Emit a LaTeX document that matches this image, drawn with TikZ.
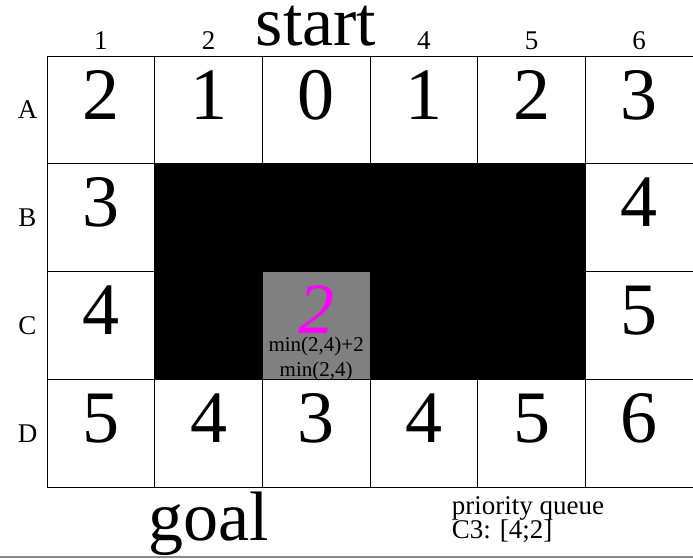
\documentclass[tikz,border=0pt]{standalone}
\usepackage{fontspec}
\setmainfont{Liberation Serif}
\usetikzlibrary{calc}
\definecolor{seengray}{RGB}{128,128,128}
\definecolor{hotmag}{RGB}{255,0,255}
\definecolor{rulegray}{RGB}{136,136,136}
\begin{document}
\begin{tikzpicture}[x=1pt,y=-1pt,
  cell/.style={draw=black, line width=0.9pt, minimum width=107.67pt, minimum height=107.75pt, inner sep=0pt, outer sep=0pt, anchor=north west},
  wall/.style={cell, fill=black},
  seen/.style={cell, fill=seengray},
  big/.style={font=\fontsize{74}{74}\selectfont, anchor=base, inner sep=0pt},
  bigmag/.style={font=\fontsize{72}{72}\selectfont\itshape, text=hotmag, anchor=base, inner sep=0pt},
  lbl/.style={font=\fontsize{27}{27}\selectfont, anchor=base, inner sep=0pt},
  huge/.style={font=\fontsize{70}{70}\selectfont, anchor=base, inner sep=0pt},
  note/.style={font=\fontsize{21}{21}\selectfont, anchor=base, inner sep=0pt},
  queue/.style={font=\fontsize{27}{27}\selectfont, anchor=base west, inner sep=0pt}
]
\useasboundingbox (0,0) rectangle (693,558);
% base grid
\foreach \r [count=\i from 0] in {A,B,C,D}{
  \foreach \c in {1,...,6}{
    \node[cell] (c\r\c) at ({47+(\c-1)*107.67},{56+\i*107.75}) {};
  }
}
% walls
\foreach \n in {B2,B3,B4,B5,C2,C4,C5}{
  \node[wall] (w\n) at (c\n.north west) {};
}
% visited cell
\node[seen] (sC3) at (cC3.north west) {};
% cell values
\foreach \n/\v in {A1/2,A2/1,A3/0,A4/1,A5/2,A6/3,B1/3,B6/4,C1/4,C6/5,D1/5,D2/4,D3/3,D4/4,D5/5,D6/6}{
  \node[big] (v\n) at ($(c\n.north)+(0,63)$) {\v};
}
\node[bigmag] (vC3) at ($(cC3.north)+(0,62)$) {2};
\node[note] (m1) at ($(cC3.north)+(0,80)$) {min(2,4)+2};
\node[note] (m2) at ($(cC3.north)+(0,105)$) {min(2,4)};
% column labels
\foreach \c in {1,2,4,5,6}{
  \node[lbl] (col\c) at ($(cA\c.north)+(0,-7)$) {\c};
}
% row labels
\foreach \r in {A,B,C,D}{
  \node[lbl] (row\r) at ($(c\r1.west)+(-19.5,9)$) {\r};
}
\node[huge] (start) at ($(cA3.north)+(0,-11)$) {start};
\node[huge] (goal) at ($(cD2.south)+(0,53)$) {goal};
\node[queue] (pq1) at ($(cD5.south west)+(-26,27)$) {priority queue};
\node[queue] (pq2) at ($(cD5.south west)+(-26,51)$) {C3: [4;2]};
% bottom rule
\coordinate (bl) at (0,557);
\coordinate (br) at (693,557);
\draw[rulegray, line width=2pt] (bl) -- (br);
\end{tikzpicture}
\end{document}
